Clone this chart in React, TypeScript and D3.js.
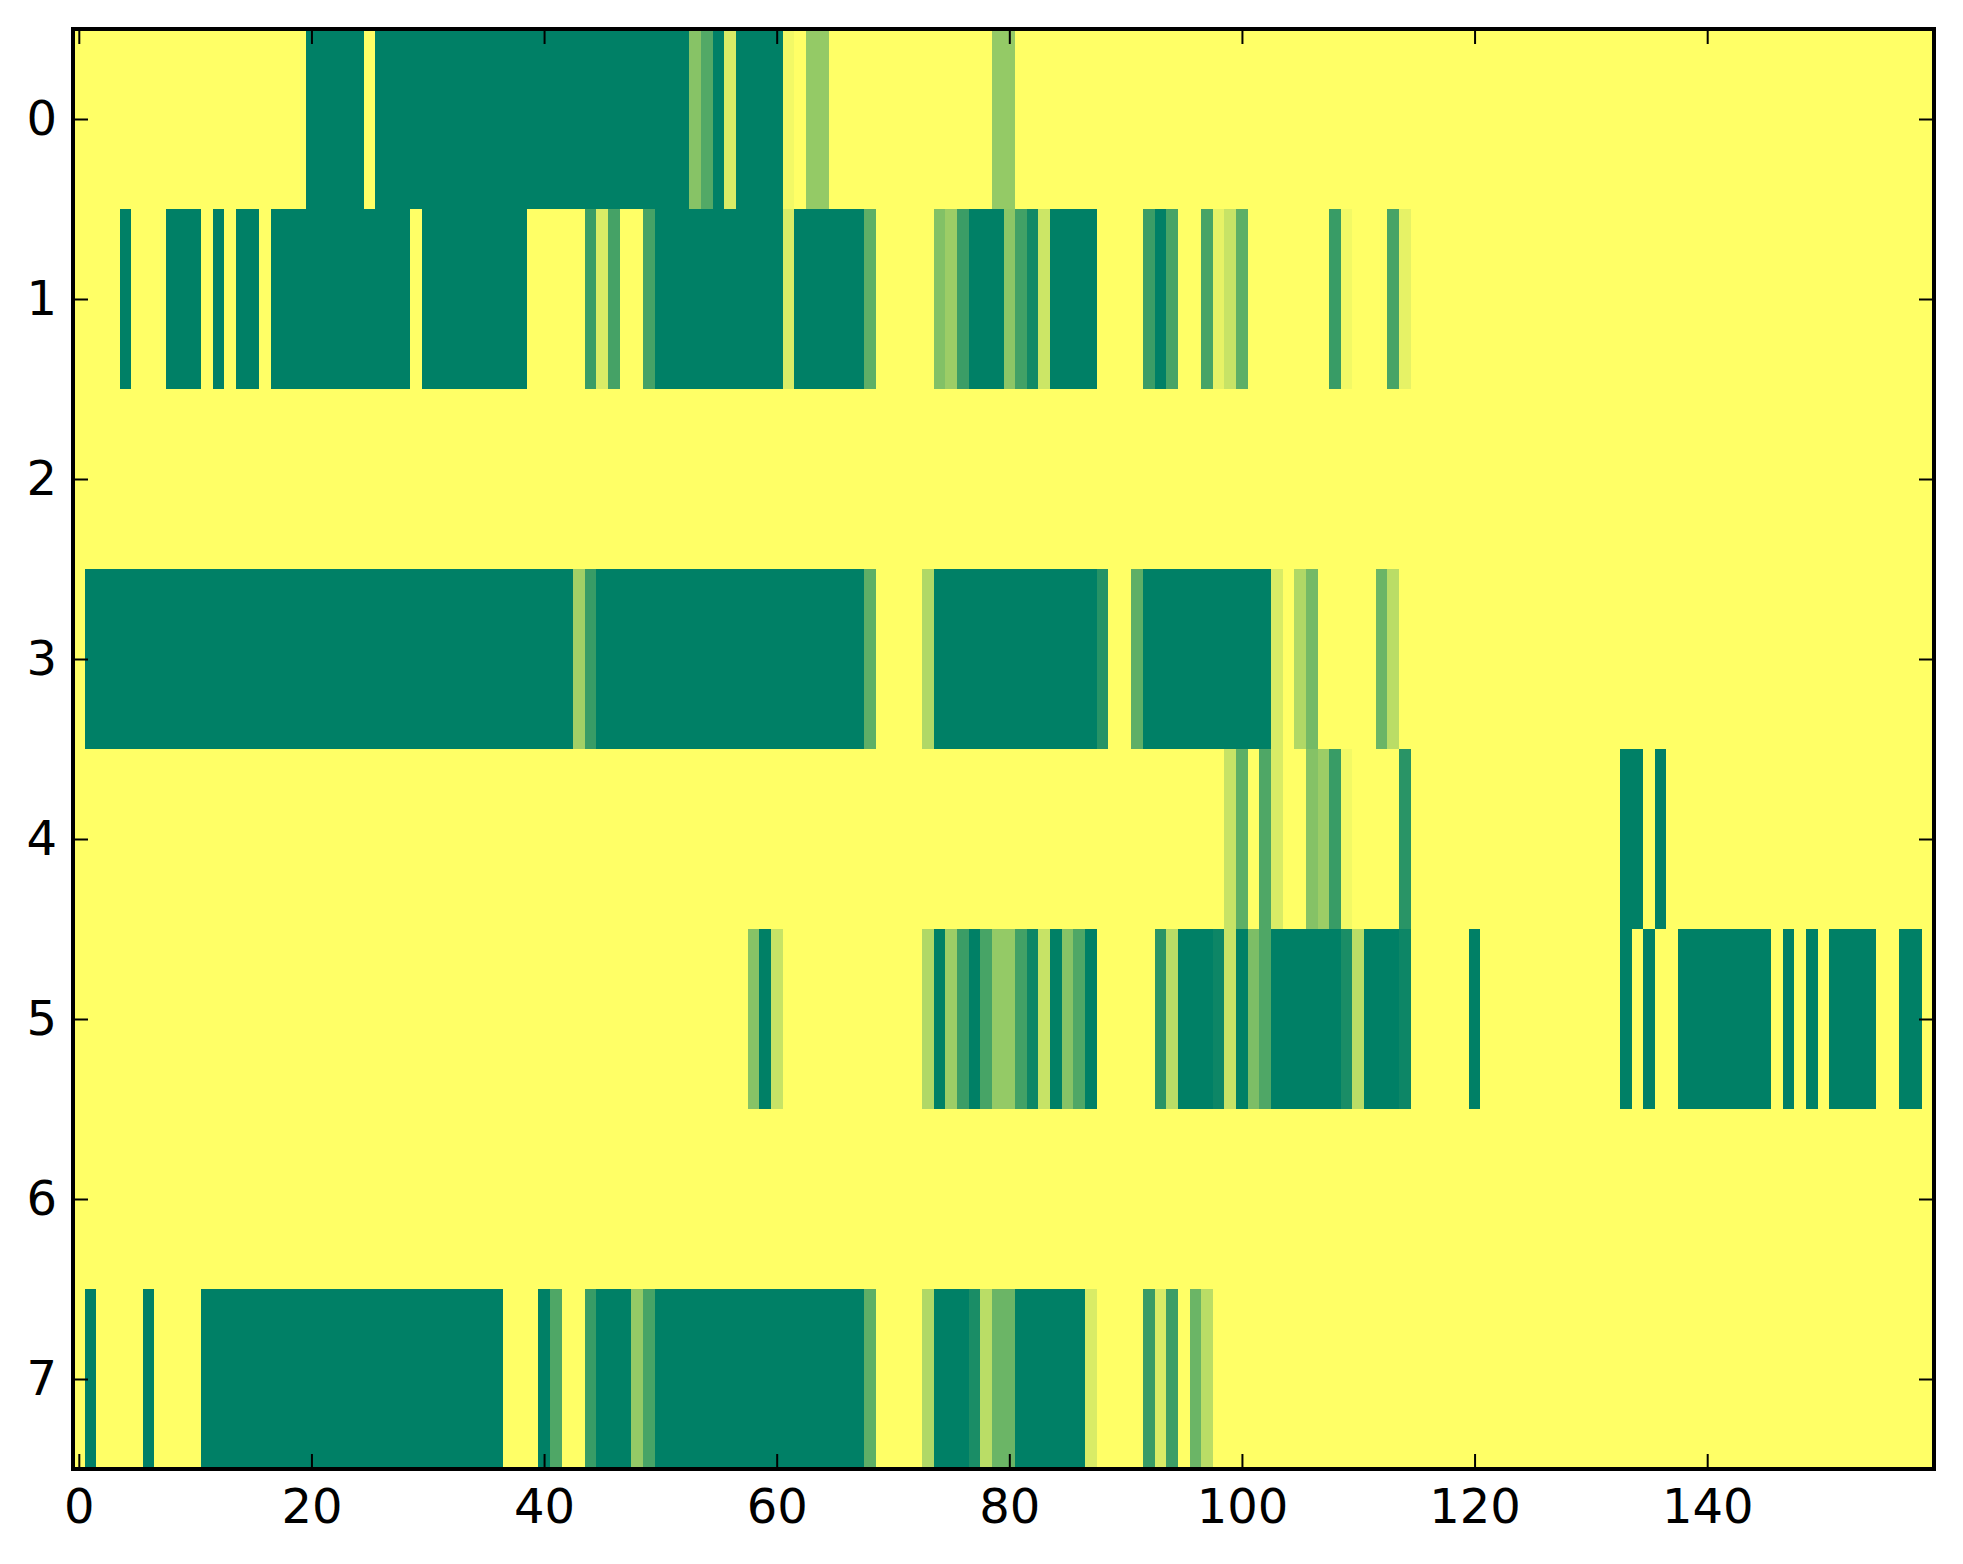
import * as d3 from "d3";
import { useEffect, useRef } from "react";

const nCols = 160;
const rowTicks = [0, 1, 2, 3, 4, 5, 6, 7];
const colTicks = [0, 20, 40, 60, 80, 100, 120, 140];

// runs of [firstCol, lastCol, value]; other cells are 0
type Run = [number, number, number];

const row0: Run[] = [
  [20, 24, 1], [26, 52, 1], [53, 53, 0.47], [54, 54, 0.68], [55, 55, 1],
  [56, 56, 0.15], [57, 60, 1], [61, 61, 0.05], [63, 64, 0.42], [79, 80, 0.42],
];

const row1: Run[] = [
  [4, 4, 1], [8, 10, 1], [12, 12, 1], [14, 15, 1], [17, 28, 1], [30, 38, 1],
  [44, 44, 0.78], [45, 45, 0.15], [46, 46, 0.73], [49, 49, 0.73], [50, 60, 1],
  [61, 61, 0.15], [62, 67, 1], [68, 68, 0.63], [74, 74, 0.49], [75, 75, 0.39],
  [76, 76, 0.77], [77, 79, 1], [80, 80, 0.45], [81, 81, 0.74], [82, 82, 0.93],
  [83, 83, 0.2], [84, 87, 1], [92, 92, 0.77], [93, 93, 1], [94, 94, 0.72],
  [97, 97, 0.72], [98, 98, 0.1], [99, 99, 0.22], [100, 100, 0.63],
  [108, 108, 0.78], [109, 109, 0.05], [113, 113, 0.72], [114, 114, 0.1],
];

const row2: Run[] = [];

const row3: Run[] = [
  [1, 42, 1], [43, 43, 0.37], [44, 44, 0.78], [45, 67, 1], [68, 68, 0.63],
  [73, 73, 0.31], [74, 87, 1], [88, 88, 0.85], [91, 91, 0.63], [92, 102, 1],
  [103, 103, 0.15], [105, 105, 0.31], [106, 106, 0.54], [112, 112, 0.58],
  [113, 113, 0.27],
];

const row4: Run[] = [
  [99, 99, 0.22], [100, 100, 0.63], [102, 102, 0.69], [103, 103, 0.15],
  [106, 106, 0.48], [107, 107, 0.39], [108, 108, 0.78], [109, 109, 0.05],
  [114, 114, 0.84], [133, 134, 1], [136, 136, 1],
];

const row5: Run[] = [
  [58, 58, 0.47], [59, 59, 1], [60, 60, 0.22], [73, 73, 0.31], [74, 74, 1],
  [75, 75, 0.39], [76, 76, 0.77], [77, 77, 1], [78, 78, 0.72], [79, 80, 0.42],
  [81, 81, 0.74], [82, 82, 0.95], [83, 83, 0.22], [84, 84, 1], [85, 85, 0.47],
  [86, 86, 0.69], [87, 87, 1], [93, 93, 0.84], [94, 94, 0.27], [95, 97, 1],
  [98, 98, 0.95], [99, 99, 0.22], [100, 100, 1], [101, 101, 0.51],
  [102, 102, 0.69], [103, 108, 1], [109, 109, 0.9], [110, 110, 0.27],
  [111, 113, 1], [114, 114, 0.95], [120, 120, 1], [133, 133, 1], [135, 135, 1],
  [138, 145, 1], [147, 147, 1], [149, 149, 1], [151, 154, 1], [157, 158, 1],
];

const row6: Run[] = [];

const row7: Run[] = [
  [1, 1, 1], [6, 6, 1], [11, 36, 1], [40, 40, 1], [41, 41, 0.69],
  [44, 44, 0.78], [45, 47, 1], [48, 48, 0.42], [49, 49, 0.72], [50, 67, 1],
  [68, 68, 0.63], [73, 73, 0.31], [74, 76, 1], [77, 77, 0.9], [78, 78, 0.27],
  [79, 80, 0.58], [81, 86, 1], [87, 87, 0.15], [92, 92, 0.78], [93, 93, 0.15],
  [94, 94, 0.76], [96, 96, 0.58], [97, 97, 0.27],
];

const rows = [row0, row1, row2, row3, row4, row5, row6, row7];

export default function App({
  width = 1963,
  height = 1564,
  marginTop = 29,
  marginRight = 29,
  marginBottom = 95,
  marginLeft = 73,
}) {
  const ref = useRef<SVGSVGElement | null>(null);

  useEffect(() => {
    const svg = d3.select(ref.current);
    svg.selectAll("*").remove();

    const innerWidth = width - marginLeft - marginRight;
    const innerHeight = height - marginTop - marginBottom;

    // expand the runs into one value per cell
    const grid = rows.map((runs) => {
      const cells = new Array(nCols).fill(0);
      runs.forEach(([a, b, v]) => {
        for (let i = a; i <= b; i++) cells[i] = v;
      });
      return cells;
    });

    const xBand = d3
      .scaleBand<number>()
      .domain(d3.range(nCols))
      .range([0, innerWidth]);
    const yBand = d3
      .scaleBand<number>()
      .domain(d3.range(rows.length))
      .range([0, innerHeight]);
    const x = d3
      .scaleLinear()
      .domain([-0.5, nCols - 0.5])
      .range([0, innerWidth]);
    const y = d3
      .scaleLinear()
      .domain([-0.5, rows.length - 0.5])
      .range([0, innerHeight]);

    // summer_r: 0 -> yellow, 1 -> green
    const color = d3.scaleLinear<string>().domain([0, 1]).range(["#ffff66", "#008066"]);

    const g = svg
      .attr("width", width)
      .attr("height", height)
      .append("g")
      .attr("transform", `translate(${marginLeft},${marginTop})`);

    // ===== Cells =====
    g.selectAll("g.row")
      .data(grid)
      .join("g")
      .attr("class", "row")
      .attr("transform", (_, i) => `translate(0,${yBand(i)})`)
      .selectAll("rect")
      .data((d) => d.map((v, i) => ({ v, i })))
      .join("rect")
      .attr("x", (d) => xBand(d.i)!)
      .attr("y", 0)
      .attr("width", xBand.bandwidth())
      .attr("height", yBand.bandwidth())
      .attr("fill", (d) => color(d.v))
      .attr("shape-rendering", "crispEdges");

    // ===== Axes (ticks inside on all four sides) =====
    const font = "DejaVu Sans, sans-serif";
    const style = (sel: any) => {
      sel.select(".domain").remove();
      sel.selectAll("line").attr("stroke", "#000").attr("stroke-width", 2);
      sel.selectAll("text").style("font-family", font).style("font-size", "48px").attr("fill", "#000");
    };

    g.append("g")
      .attr("transform", `translate(0,${innerHeight})`)
      .call(d3.axisBottom(x).tickValues(colTicks).tickSizeInner(-15).tickSizeOuter(0).tickPadding(20))
      .call(style);
    g.append("g")
      .call(d3.axisTop(x).tickValues(colTicks).tickSizeInner(-15).tickSizeOuter(0).tickFormat(() => ""))
      .call(style);
    g.append("g")
      .call(d3.axisLeft(y).tickValues(rowTicks).tickSizeInner(-15).tickSizeOuter(0).tickPadding(16))
      .call(style);
    g.append("g")
      .attr("transform", `translate(${innerWidth},0)`)
      .call(d3.axisRight(y).tickValues(rowTicks).tickSizeInner(-15).tickSizeOuter(0).tickFormat(() => ""))
      .call(style);

    // ===== Frame =====
    g.append("rect")
      .attr("width", innerWidth)
      .attr("height", innerHeight)
      .attr("fill", "none")
      .attr("stroke", "#000")
      .attr("stroke-width", 4);
  }, [width, height, marginTop, marginRight, marginBottom, marginLeft]);

  return (
    <svg ref={ref} style={{ position: "absolute", left: 0, top: 0, background: "#fff" }} />
  );
}
